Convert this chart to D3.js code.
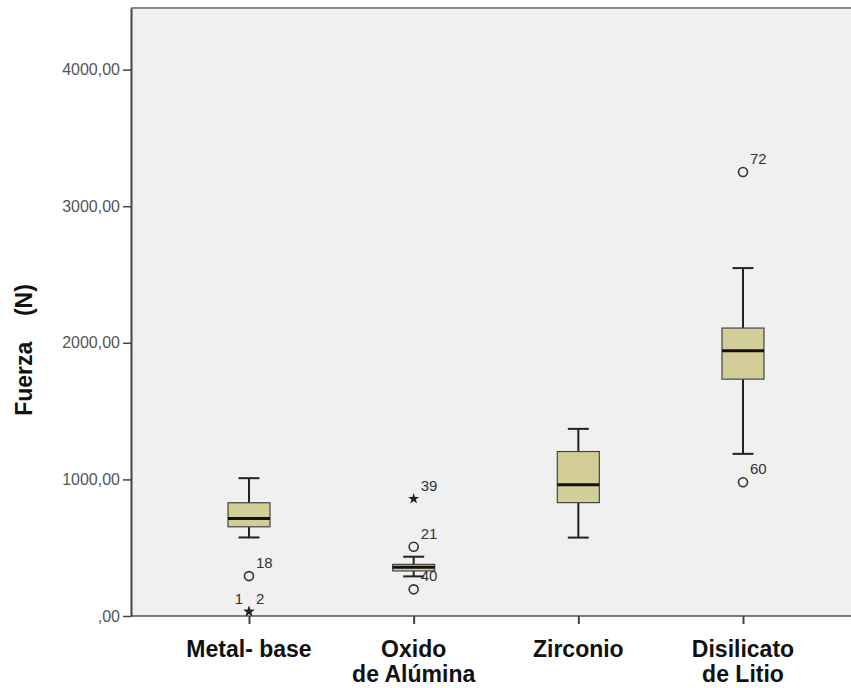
<!DOCTYPE html>
<html>
<head>
<meta charset="utf-8">
<script src="https://cdn.jsdelivr.net/npm/d3@7"></script>
<style>
body { margin: 0; background: #fff; }
text { font-family: "Liberation Sans", Arial, sans-serif; }
</style>
</head>
<body>
<svg id="chart" width="851" height="688"></svg>
<script>
// box plot values
var categories = ["Metal- base", "Oxido de Alúmina", "Zirconio", "Disilicato de Litio"];
var labelLines = [["Metal- base"], ["Oxido", "de Alúmina"], ["Zirconio"], ["Disilicato", "de Litio"]];
var whiskerLow = [575, 290, 574, 1187];
var q1 = [653, 330, 830, 1734];
var median = [714, 357, 960, 1941];
var q3 = [829, 378, 1204, 2108];
var whiskerHigh = [1009, 434, 1370, 2547];

var outlierGroup = [0, 0, 0, 1, 1, 1, 3, 3];
var outlierValue = [292, 32, 32, 858, 507, 195, 3250, 979];
var outlierCase = ["18", "1", "2", "39", "21", "40", "72", "60"];
var outlierKind = ["circle", "star", "star", "star", "circle", "circle", "circle", "circle"];

var yTicks = [0, 1000, 2000, 3000, 4000];

var width = 851;
var plotLeft = 131, plotTop = 8, plotBottom = 616;

var svg = d3.select("#chart");

var y = d3.scaleLinear()
    .domain([0, 4451])
    .range([plotBottom, plotTop]);

var x = d3.scalePoint()
    .domain(categories)
    .range([249, 743]);

// plot background + edges
svg.append("rect")
    .attr("x", plotLeft).attr("y", plotTop)
    .attr("width", width - plotLeft).attr("height", plotBottom - plotTop)
    .attr("fill", "#f0f0f0");
svg.append("line")
    .attr("x1", plotLeft).attr("x2", width)
    .attr("y1", plotTop).attr("y2", plotTop)
    .attr("stroke", "#8a8a8a").attr("stroke-width", 2);
svg.append("line")
    .attr("x1", plotLeft).attr("x2", width)
    .attr("y1", plotBottom).attr("y2", plotBottom)
    .attr("stroke", "#555").attr("stroke-width", 1.5);

function fmt(d) {
    var s = d3.format(".2f")(d).replace(".", ",");
    if (d === 0) s = s.slice(1);
    return s;
}

var yAxis = svg.append("g")
    .attr("transform", "translate(" + plotLeft + ",0)")
    .call(d3.axisLeft(y).tickValues(yTicks).tickFormat(fmt).tickSize(8).tickSizeOuter(0).tickPadding(3));
yAxis.select(".domain").attr("stroke", "#444").attr("stroke-width", 2);
yAxis.selectAll(".tick line").attr("stroke", "#444").attr("stroke-width", 1.5);
yAxis.selectAll(".tick text")
    .attr("fill", "#555")
    .style("font-size", "16px")
    .style("font-family", "'Liberation Sans', Arial, sans-serif");

var xAxis = svg.append("g")
    .attr("transform", "translate(0," + plotBottom + ")")
    .call(d3.axisBottom(x).tickSize(8).tickFormat(""));
xAxis.select(".domain").remove();
xAxis.selectAll(".tick line").attr("stroke", "#444").attr("stroke-width", 2);

// category labels
var lab = svg.append("g").selectAll("text")
    .data(categories)
    .enter().append("text")
    .attr("text-anchor", "middle")
    .attr("font-weight", "bold")
    .attr("font-size", "23px")
    .attr("fill", "#111");
lab.each(function(d, i) {
    var t = d3.select(this);
    labelLines[i].forEach(function(line, j) {
        t.append("tspan")
            .attr("x", x(d))
            .attr("y", 657 + j * 25)
            .text(line);
    });
});

// y title
svg.append("text")
    .attr("transform", "translate(32,350) rotate(-90)")
    .attr("text-anchor", "middle")
    .attr("font-weight", "bold")
    .attr("font-size", "23px")
    .attr("fill", "#111")
    .style("white-space", "pre")
    .text("Fuerza    (N)");

// boxes
var boxW = 42, capW = 21;
var g = svg.append("g").selectAll("g")
    .data(categories)
    .enter().append("g")
    .attr("transform", function(d) { return "translate(" + x(d) + ",0)"; });

g.append("line")
    .attr("y1", function(d, i) { return y(whiskerHigh[i]); })
    .attr("y2", function(d, i) { return y(q3[i]); })
    .attr("stroke", "#222").attr("stroke-width", 2);
g.append("line")
    .attr("y1", function(d, i) { return y(q1[i]); })
    .attr("y2", function(d, i) { return y(whiskerLow[i]); })
    .attr("stroke", "#222").attr("stroke-width", 2);
g.append("line")
    .attr("x1", -capW / 2).attr("x2", capW / 2)
    .attr("y1", function(d, i) { return y(whiskerHigh[i]); })
    .attr("y2", function(d, i) { return y(whiskerHigh[i]); })
    .attr("stroke", "#222").attr("stroke-width", 2);
g.append("line")
    .attr("x1", -capW / 2).attr("x2", capW / 2)
    .attr("y1", function(d, i) { return y(whiskerLow[i]); })
    .attr("y2", function(d, i) { return y(whiskerLow[i]); })
    .attr("stroke", "#222").attr("stroke-width", 2);
g.append("rect")
    .attr("x", -boxW / 2).attr("width", boxW)
    .attr("y", function(d, i) { return y(q3[i]); })
    .attr("height", function(d, i) { return y(q1[i]) - y(q3[i]); })
    .attr("fill", "#d3ce97")
    .attr("stroke", "#444").attr("stroke-width", 1.2);
g.append("line")
    .attr("x1", -boxW / 2).attr("x2", boxW / 2)
    .attr("y1", function(d, i) { return y(median[i]); })
    .attr("y2", function(d, i) { return y(median[i]); })
    .attr("stroke", "#111").attr("stroke-width", 3);

// outliers
var star = d3.symbol().type(d3.symbolStar).size(38);
var og = svg.append("g").selectAll("g")
    .data(outlierValue)
    .enter().append("g")
    .attr("transform", function(d, i) {
        return "translate(" + x(categories[outlierGroup[i]]) + "," + y(d) + ")";
    });
og.filter(function(d, i) { return outlierKind[i] == "circle"; })
    .append("circle")
    .attr("r", 4.5)
    .attr("fill", "none")
    .attr("stroke", "#333").attr("stroke-width", 1.6);
og.filter(function(d, i) { return outlierKind[i] == "star"; })
    .append("path")
    .attr("d", star)
    .attr("fill", "#222");

// case labels; when two cases share a spot, first goes left
function sharesNext(d, i) {
    return i + 1 < outlierValue.length && outlierValue[i + 1] == d && outlierGroup[i + 1] == outlierGroup[i];
}
og.append("text")
    .attr("font-size", "15px")
    .attr("fill", "#333")
    .attr("y", -8)
    .attr("x", function(d, i) { return sharesNext(d, i) ? -6 : 7; })
    .attr("text-anchor", function(d, i) { return sharesNext(d, i) ? "end" : "start"; })
    .text(function(d, i) { return outlierCase[i]; });
</script>
</body>
</html>
